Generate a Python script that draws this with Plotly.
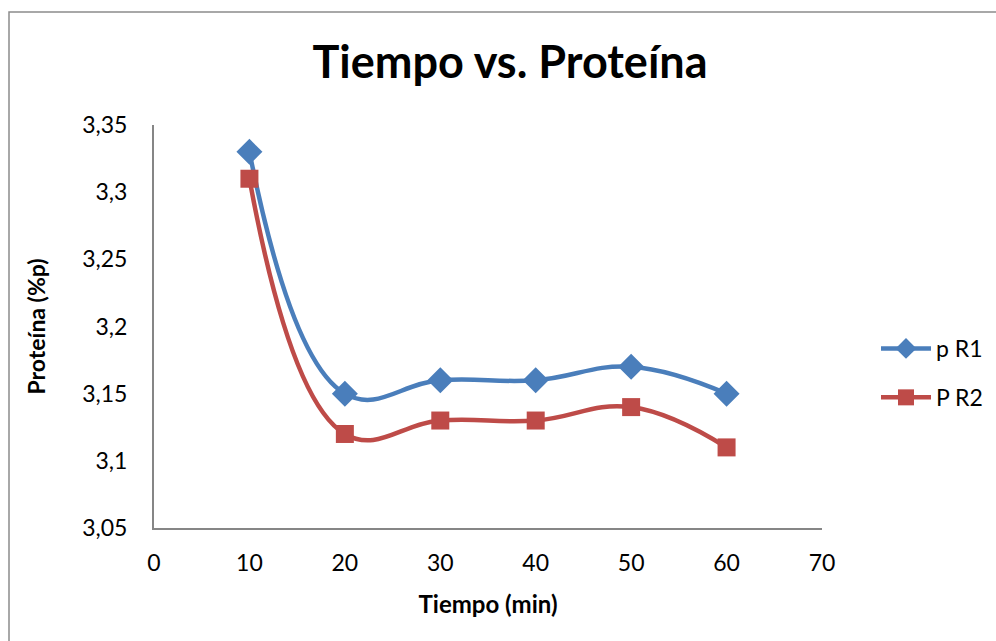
import plotly.graph_objects as go

# Protein content over time for two replicates
tiempo = [10, 20, 30, 40, 50, 60]
p_r1 = [3.33, 3.15, 3.16, 3.16, 3.17, 3.15]
p_r2 = [3.31, 3.12, 3.13, 3.13, 3.14, 3.11]

x_ticks = [0, 10, 20, 30, 40, 50, 60, 70]
y_ticks = [3.05, 3.10, 3.15, 3.20, 3.25, 3.30, 3.35]
y_tick_text = ["3,05", "3,1", "3,15", "3,2", "3,25", "3,3", "3,35"]

W, H = 996, 641
L, R, T, B = 154, 174, 125, 113

BLUE = "#4A7EBB"
RED = "#BE4B48"
FONT = "Lato, 'Open Sans', sans-serif"

fig = go.Figure()
fig.add_trace(go.Scatter(
    x=tiempo, y=p_r1, name="p R1", mode="lines+markers",
    line=dict(color=BLUE, width=4.5, shape="spline", smoothing=1.2),
    marker=dict(symbol="diamond", size=20, color=BLUE),
    legendgroup="a",
))
fig.add_trace(go.Scatter(
    x=tiempo, y=p_r2, name="P R2", mode="lines+markers",
    line=dict(color=RED, width=4.5, shape="spline", smoothing=1.2),
    marker=dict(symbol="square", size=18, color=RED),
    legendgroup="b",
))

# Chart-area frame
pw = W - L - R
ph = H - T - B
fig.add_shape(
    type="rect", xref="paper", yref="paper",
    x0=(9 - L) / pw, x1=(W + 20 - L) / pw,
    y0=(H - B - (H + 20)) / ph, y1=(H - B - 12) / ph,
    line=dict(color="#8C8C8C", width=1.5), fillcolor="rgba(0,0,0,0)",
    layer="below",
)

fig.update_layout(
    width=W, height=H,
    margin=dict(l=L, r=R, t=T, b=B, autoexpand=False),
    paper_bgcolor="white", plot_bgcolor="white",
    font=dict(family=FONT, size=23, color="black"),
    title=dict(
        text="<b>Tiempo vs. Proteína</b>",
        font=dict(family=FONT, size=45, color="black"),
        xref="container", yref="container",
        x=510 / W, xanchor="center", y=1 - 62 / H, yanchor="middle",
    ),
    xaxis=dict(
        range=[0, 70], tickvals=x_ticks, showgrid=False, zeroline=False,
        showline=True, linecolor="#868686", linewidth=2, ticks="",
        tickfont=dict(size=23), ticklabelstandoff=13,
        title=dict(text="<b>Tiempo (min)</b>", font=dict(size=24), standoff=22),
        automargin=False,
    ),
    yaxis=dict(
        range=[3.05, 3.35], tickvals=y_ticks, ticktext=y_tick_text,
        showgrid=False, zeroline=False,
        showline=True, linecolor="#868686", linewidth=2, ticks="",
        tickfont=dict(size=23), ticklabelstandoff=20,
        title=dict(text="<b>Proteína (%p)</b>", font=dict(size=23), standoff=30),
        automargin=False,
    ),
    legend=dict(
        x=(876 - L) / pw, xanchor="left", y=(H - B - 373) / ph, yanchor="middle",
        font=dict(size=23), itemwidth=50, tracegroupgap=16,
        bgcolor="rgba(0,0,0,0)",
    ),
    showlegend=True,
)

fig.write_html("out.html")
